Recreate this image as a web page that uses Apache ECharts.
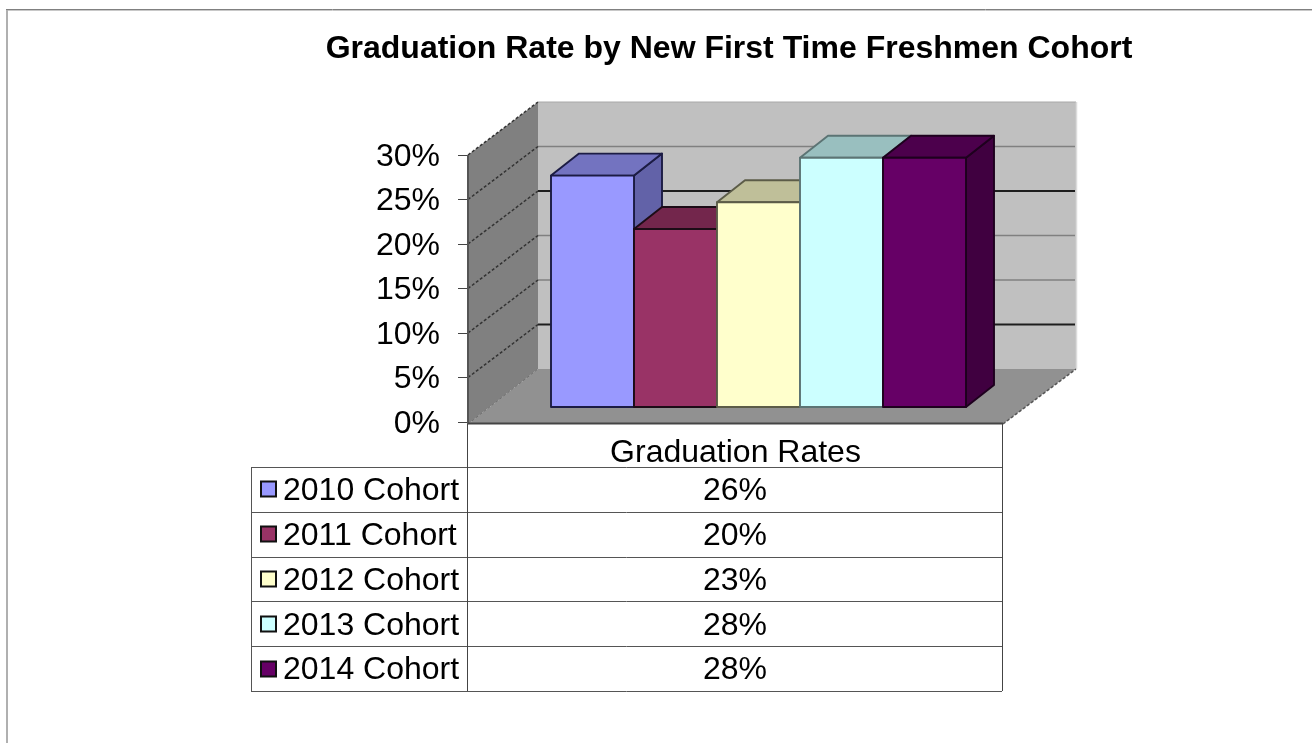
<!DOCTYPE html>
<html><head><meta charset="utf-8">
<style>html,body{margin:0;padding:0;background:#fff}#c{width:1312px;height:743px}</style>
<script src="https://cdn.jsdelivr.net/npm/echarts@6/dist/echarts.min.js"></script>
</head><body><div id="c"></div>
<script>
const titleText = 'Graduation Rate by New First Time Freshmen Cohort';
const categoryLabels = ['Graduation Rates'];
const cohorts = ['2010 Cohort','2011 Cohort','2012 Cohort','2013 Cohort','2014 Cohort'];
const graduationRates = [26, 20, 23, 28, 28];
const yTicks = [0, 5, 10, 15, 20, 25, 30];

const FONT = '"Liberation Sans", Arial, sans-serif';
const faces = [
  {front:'#9999ff', top:'#7373c0', side:'#6262a8', edge:'#1c1c44'},
  {front:'#993366', top:'#73264c', side:'#622142', edge:'#1c0c16'},
  {front:'#ffffcc', top:'#bfbf99', side:'#a6a684', edge:'#5c5c48'},
  {front:'#ccffff', top:'#99bfbf', side:'#84a6a6', edge:'#5c7474'},
  {front:'#660066', top:'#4c004c', side:'#400040', edge:'#1e001e'}
];
const wall = {dx:70, dy:-53, extra:3};
const barFrac = 83/535;
const barShift = {dx:23, dy:-15};
const barDepth = {dx:28, dy:-22};
const darkTicks = [5, 20];

const poly = (pts, fill, stroke, lw) => ({type:'polygon', shape:{points:pts},
  style:{fill, stroke:stroke||'none', lineWidth:lw||0, lineJoin:'round'}});
const line = (x1,y1,x2,y2,stroke,lw,dash) => ({type:'line', shape:{x1,y1,x2,y2},
  style:{stroke, lineWidth:lw, lineDash:dash||null, fill:null}});

function renderWalls(params, api){
  const cs = params.coordSys;
  const L = cs.x, R = cs.x + cs.width;
  const y0 = api.coord([0, 0])[1], yT = api.coord([0, 30])[1];
  const d = wall, kids = [], BR = R + d.dx + d.extra;
  kids.push(poly([[L+d.dx,yT+d.dy],[BR,yT+d.dy],[BR,y0+d.dy],[L+d.dx,y0+d.dy]],'#c0c0c0'));
  kids.push(line(L+d.dx,yT+d.dy,BR,yT+d.dy,'#a8a8a8',1));
  kids.push(line(BR+.5,yT+d.dy,BR+.5,y0+d.dy,'#dcdcdc',1.5));
  kids.push(poly([[L,yT],[L+d.dx,yT+d.dy],[L+d.dx,y0+d.dy],[L,y0+2]],'#808080'));
  kids.push(poly([[L,y0+2],[R,y0+2],[BR,y0+d.dy],[L+d.dx,y0+d.dy]],'#919191'));
  yTicks.forEach(t => {
    const y = api.coord([0,t])[1];
    if (t > 0 && t < 30) {
      const dark = darkTicks.indexOf(t) >= 0;
      kids.push(line(L+d.dx,y+d.dy,BR-1,y+d.dy, dark?'#1e1e1e':'#808080', dark?2.2:1.6));
    }
    if (t > 0) kids.push(line(L,y,L+d.dx,y+d.dy,'#333',1.5,[3,2]));
  });
  kids.push(line(L,y0+2,L+d.dx,y0+d.dy,'#6e6e6e',1,[3,2]));
  kids.push(line(R,y0+2,BR,y0+d.dy,'#555',1.5,[3,2]));
  kids.push(line(L,yT,L,y0+2,'#555',2));
  kids.push(line(L,y0+1.5,R,y0+1.5,'#444',2));
  return {type:'group', children:kids};
}

function renderBar(params, api){
  const i = params.seriesIndex - 1;
  const v = api.value(1);
  const base = api.coord([0, 0]), topP = api.coord([0, v]);
  const w = api.size([1,0])[0] * barFrac;
  const x = base[0] - 2.5*w + i*w + barShift.dx;
  const yb = base[1] + barShift.dy, yt = topP[1] + barShift.dy;
  const dx = barDepth.dx, dy = barDepth.dy, f = faces[i];
  const xr = x + w;
  return {type:'group', children:[
    poly([[xr,yt],[xr+dx,yt+dy],[xr+dx,yb+dy],[xr,yb]], f.side, f.edge, 1.9),
    poly([[x,yt],[x+dx,yt+dy],[xr+dx,yt+dy],[xr,yt]], f.top, f.edge, 1.9),
    poly([[x,yt],[xr,yt],[xr,yb],[x,yb]], f.front, f.edge, 1.9)
  ]};
}

const T = {l:251, m:468, r:1002, top:467, row:44.8, fs:32};
const g = [];
const hl = (y) => ({type:'line', shape:{x1:T.l,y1:y,x2:T.r,y2:y}, style:{stroke:'#555',lineWidth:1}});
const vl = (x,y1,y2,c) => ({type:'line', shape:{x1:x,y1,x2:x,y2}, style:{stroke:c,lineWidth:1}});
g.push({type:'line', shape:{x1:6,y1:9.5,x2:1312,y2:9.5}, style:{stroke:'#808080',lineWidth:1}});
g.push({type:'line', shape:{x1:6,y1:10.5,x2:1312,y2:10.5}, style:{stroke:'#c8c8c8',lineWidth:1}});
g.push({type:'line', shape:{x1:7,y1:10,x2:7,y2:743}, style:{stroke:'#b0b0b0',lineWidth:2}});
for (let k=0;k<=cohorts.length;k++) g.push(hl(Math.round(T.top+k*T.row)+.5));
g.push(vl(T.l+.5,T.top,T.top+5*T.row,'#555'));
g.push(vl(T.m-.5,424,T.top+5*T.row,'#444'));
g.push(vl(T.r+.5,424,T.top+5*T.row,'#444'));
cohorts.forEach((c,k)=>{
  const cy = T.top + (k+.5)*T.row;
  g.push({type:'rect', shape:{x:261,y:Math.round(cy)-7.5,width:15,height:15},
    style:{fill:faces[k].front, stroke:'#111', lineWidth:2}});
  g.push({type:'text', style:{x:283,y:cy+2,text:c,align:'left',verticalAlign:'middle',
    font:T.fs+'px '+FONT,fill:'#000'}});
  g.push({type:'text', style:{x:(T.m+T.r)/2,y:cy+2,text:graduationRates[k]+'%',align:'center',verticalAlign:'middle',
    font:T.fs+'px '+FONT,fill:'#000'}});
});

const chart = echarts.init(document.getElementById('c'), null, {renderer:'canvas'});
chart.setOption({
  animation:false,
  backgroundColor:'#fff',
  title:{text:titleText,left:724,top:28,textAlign:'center',
    textStyle:{fontFamily:FONT,fontWeight:'bold',fontSize:32,color:'#000'}},
  grid:{left:468,width:535,top:155,height:267},
  xAxis:{type:'category',data:categoryLabels,
    axisLine:{show:false},axisTick:{show:false},
    axisLabel:{margin:15,fontFamily:FONT,fontSize:T.fs,color:'#000'}},
  yAxis:{type:'value',min:0,max:30,interval:5,
    axisLine:{show:false},
    axisTick:{show:true,length:10,lineStyle:{color:'#444',width:1}},
    splitLine:{show:false},
    axisLabel:{margin:28,color:'#000',formatter:'{v|{value}%}',
      rich:{v:{fontFamily:FONT,fontSize:T.fs,color:'#000',padding:[4,0,0,0]}}}},
  graphic:g,
  series:[
    {type:'custom',renderItem:renderWalls,data:[[0,0]],silent:true,z:1},
  ].concat(graduationRates.map((v,i)=>({
    type:'custom',name:cohorts[i],renderItem:renderBar,
    data:[[0,v]],encode:{x:0,y:1},z:2+i,silent:true})))
});
</script></body></html>
